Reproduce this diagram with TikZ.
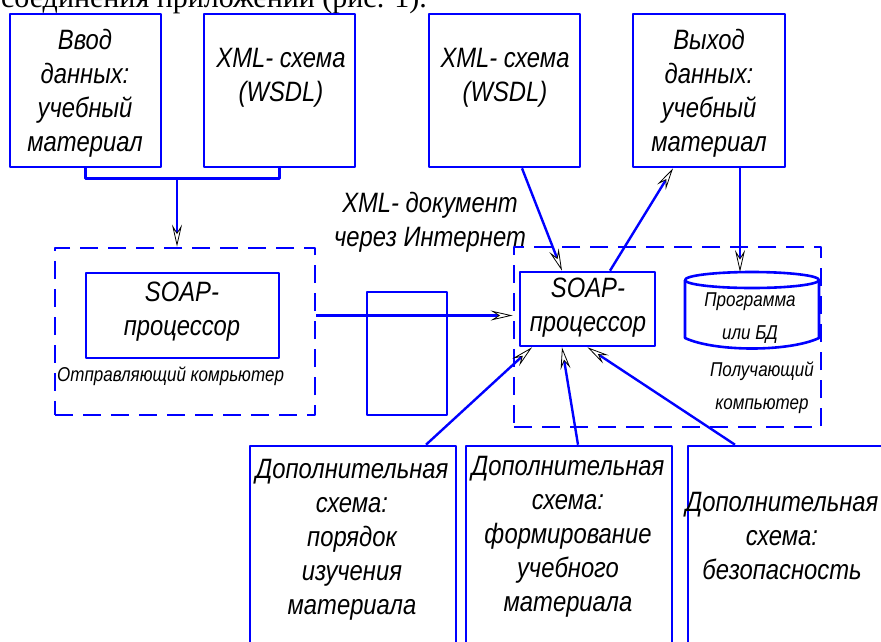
\documentclass[tikz,border=0pt]{standalone}
\usepackage{fontspec}
\newfontfamily\diafont{Liberation Sans}[FakeStretch=0.85]
\newfontfamily\bodyfont{Liberation Serif}
\usetikzlibrary{arrows.meta,calc}
\tikzset{
  box/.style={draw=blue,line width=2.6pt,rectangle,inner sep=0pt},
  pcbox/.style={draw=blue,line width=2.8pt,dash pattern=on 18pt off 10pt,rectangle,inner sep=0pt},
  txt/.style={align=center,inner sep=0pt,font=\diafont\itshape\fontsize{28}{34}\selectfont},
  smalltxt/.style={align=center,inner sep=0pt,font=\diafont\itshape\fontsize{20}{33}\selectfont},
  conn/.style={draw=blue,line width=2.4pt},
  arr/.style={-{Stealth[color=black,fill=white,line width=0.8pt,length=22pt,width=10pt,inset=8pt]}},
}

\begin{document}
\begin{tikzpicture}[x=1pt,y=-1pt,line join=round]
  \useasboundingbox (0,0) rectangle (881,641);
  \clip (0,0) rectangle (881,641);

  % text above the figure
  \node[anchor=base east,inner sep=0pt,font=\bodyfont\fontsize{30}{36}\selectfont] (caption) at (427,7) {соединения приложений (рис. 1).};

  % input boxes
  \node[box,minimum width=151pt,minimum height=153pt] (inA) at (85.5,90.5) {};
  \node[box,minimum width=151pt,minimum height=153pt] (xsdA) at (279.5,90.5) {};
  \node[box,minimum width=151pt,minimum height=153pt] (xsdB) at (504.5,90.5) {};
  \node[box,minimum width=152pt,minimum height=153pt] (outB) at (709,90.5) {};
  \node[txt] (inAtxt) at (85,93) {Ввод\\данных:\\учебный\\материал};
  \node[txt] (xsdAtxt) at (281,78) {XML- схема\\(WSDL)};
  \node[txt] (xsdBtxt) at (505,78) {XML- схема\\(WSDL)};
  \node[txt] (outBtxt) at (709,93) {Выход\\данных:\\учебный\\материал};

  % computers
  \node[pcbox,minimum width=260pt,minimum height=167pt] (send) at (185,331.5) {};
  \node[pcbox,minimum width=307pt,minimum height=180pt] (recv) at (667.5,337) {};
  \node[box,minimum width=193pt,minimum height=85pt] (soapA) at (182.5,315.5) {};
  \node[box,minimum width=135pt,minimum height=74pt] (soapB) at (587.5,309) {};
  \node[txt] (soapAtxt) at (182,312) {SOAP-\\процессор};
  \node[txt] (soapBtxt) at (588,308) {SOAP-\\процессор};
  \node[smalltxt,anchor=west] (sendtxt) at (57,376) {Отправляющий комрьютер};
  \node[smalltxt] (recvtxt) at (762,388) {Получающий\\компьютер};
  \node[box,minimum width=80pt,minimum height=123pt] (packet) at (407,353.5) {};
  \node[txt] (nettxt) at (430,222) {XML- документ\\через Интернет};

  % database
  \coordinate (db) at (752,280);
  \coordinate (dbtop) at (740,272);
  \draw[box] (db) ellipse [x radius=67pt,y radius=8pt];
  \draw[box] (685,280) -- (685,338) .. controls (715,352) and (789,352) .. (819,338) -- (819,280);
  \node[smalltxt] (dbtxt) at (750,318) {Программа\\или БД};

  % extra schemas
  \node[box,minimum width=206pt,minimum height=254pt] (extA) at (353,573) {};
  \node[box,minimum width=206pt,minimum height=254pt] (extB) at (569,573) {};
  \node[box,minimum width=212pt,minimum height=254pt] (extC) at (794,573) {};
  \node[txt] (extAtxt) at (352,540) {Дополнительная\\схема:\\порядок\\изучения\\материала};
  \node[txt] (extBtxt) at (568,537) {Дополнительная\\схема:\\формирование\\учебного\\материала};
  \node[txt] (extCtxt) at (782,536) {Дополнительная\\схема:\\безопасность};

  % connectors
  \coordinate (fork) at (177,177);
  \draw[conn] (inA.south) -- ++(0,10) -| (xsdA.south);
  \draw[conn,arr] (fork) -- (fork |- send.north);
  \draw[conn,arr] (send.east |- soapA) -- (recv.west |- soapA);
  \draw[conn,arr] ([xshift=17.5pt]xsdB.south) -- ([xshift=-25.5pt]soapB.north);
  \draw[conn,arr] ([xshift=22.5pt]soapB.north) -- ([xshift=-36pt]outB.south);
  \draw[conn,arr] ([xshift=31pt]outB.south) -- (dbtop);
  \draw[conn,arr] ([xshift=73pt]extA.north) -- ([xshift=-55.5pt]soapB.south);
  \draw[conn,arr] ([xshift=9pt]extB.north) -- ([xshift=-25.5pt]soapB.south);
  \draw[conn,arr] ([xshift=-59pt]extC.north) -- (soapB.south);
\end{tikzpicture}
\end{document}
